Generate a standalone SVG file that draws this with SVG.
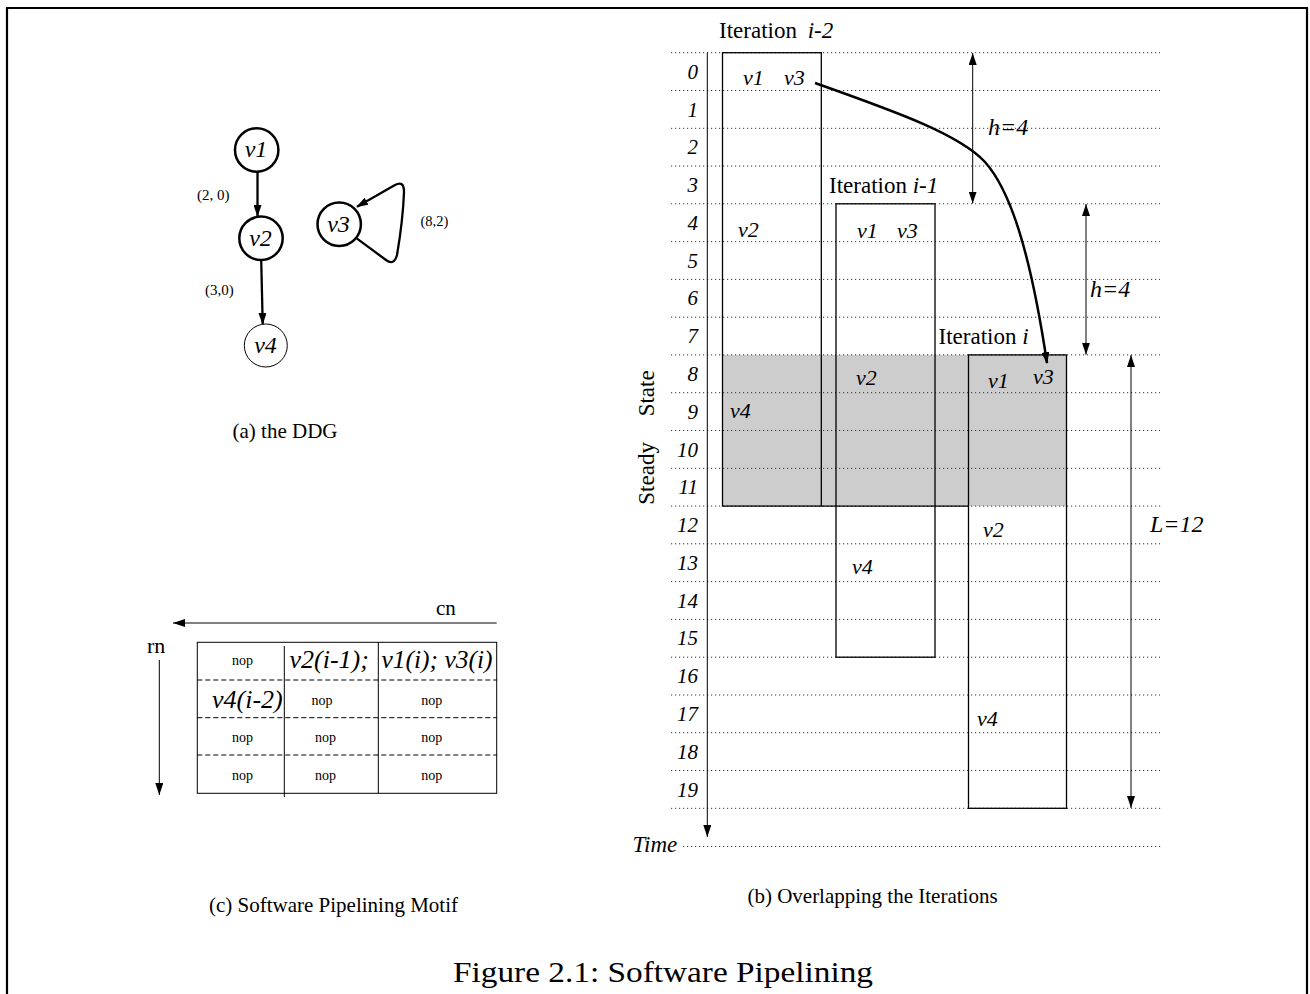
<svg xmlns="http://www.w3.org/2000/svg" width="1310" height="994" viewBox="0 0 1310 994">
<style>
.t{font-family:"Liberation Serif","Times New Roman",serif;fill:#000}
.it{font-style:italic}
.dot{stroke:#333;stroke-width:1;stroke-dasharray:1.2 2.8;fill:none}
.box{fill:none;stroke:#000;stroke-width:1.3}
.thin{stroke:#000;stroke-width:1;fill:none}
.thick{stroke:#000;stroke-width:2.5;fill:none}
.rl{font-size:21px;font-style:italic;text-anchor:end}
.v{font-size:22px;font-style:italic}
.nop{font-size:14px;text-anchor:middle}
.cap{font-size:21px;text-anchor:middle}
</style>
<defs>
<marker id="ah" viewBox="0 0 12 8" refX="12" refY="4" markerWidth="12" markerHeight="8" markerUnits="userSpaceOnUse" orient="auto-start-reverse"><path d="M0 0 L12 4 L0 8 Z" fill="#000"/></marker>
<marker id="ahb" viewBox="0 0 12 8" refX="11" refY="4" markerWidth="12" markerHeight="8" markerUnits="userSpaceOnUse" orient="auto"><path d="M0 0 L12 4 L0 8 Z" fill="#000"/></marker>
</defs>
<rect width="1310" height="994" fill="#fff"/>
<path d="M7 994 V8 H1307 V994" fill="none" stroke="#000" stroke-width="2.2"/>

<!-- (a) DDG -->
<g id="ddg-nodes">
<g id="v1"><circle cx="256.7" cy="150" r="21.7" class="thick" stroke-width="2.3"/><text class="t it" x="256" y="157" font-size="24" text-anchor="middle">v1</text></g>
<g id="v2"><circle cx="261" cy="238.3" r="21.7" class="thick" stroke-width="2.3"/><text class="t it" x="260.5" y="246" font-size="24" text-anchor="middle">v2</text></g>
<g id="v3"><circle cx="339.2" cy="224.2" r="21.7" class="thick" stroke-width="2.3"/><text class="t it" x="338.5" y="232" font-size="24" text-anchor="middle">v3</text></g>
<g id="v4"><circle cx="265.8" cy="345.5" r="21.5" class="thin"/><text class="t it" x="265.5" y="353" font-size="24" text-anchor="middle">v4</text></g>
</g>
<g id="ddg-edges">
<line x1="257.5" y1="171.7" x2="257.5" y2="216" stroke="#000" stroke-width="2.3" marker-end="url(#ahb)"/>
<line x1="261.2" y1="260" x2="262.7" y2="324" stroke="#000" stroke-width="2.3" marker-end="url(#ahb)"/>
<path d="M356.7 238.3 L386 260 Q394 266 397 255 Q403 220 404 192 Q404 180 395 185 L357 206.7" stroke="#000" stroke-width="2.3" fill="none" marker-end="url(#ahb)"/>
<text class="t" x="197" y="200" font-size="15">(2, 0)</text>
<text class="t" x="205" y="295" font-size="15">(3,0)</text>
<text class="t" x="420.5" y="226" font-size="14.5">(8,2)</text>
</g>
<text class="t cap" x="285" y="438">(a) the DDG</text>

<!-- (c) table -->
<g id="motif">
<line x1="496.7" y1="623" x2="173" y2="623" class="thin" marker-end="url(#ah)"/>
<text class="t" x="436" y="615" font-size="21">cn</text>
<text class="t" x="147" y="653" font-size="22">rn</text>
<line x1="159.3" y1="660" x2="159.3" y2="795" class="thin" marker-end="url(#ah)"/>
<rect x="197.3" y="642.3" width="299.4" height="151" class="thin"/>
<g stroke="#000" stroke-width="1" stroke-dasharray="5 3">
<line x1="197.3" y1="680" x2="496.7" y2="680"/>
<line x1="197.3" y1="717.7" x2="496.7" y2="717.7"/>
<line x1="197.3" y1="755" x2="496.7" y2="755"/>
</g>
<line x1="284.3" y1="646" x2="284.3" y2="797" class="thin"/>
<line x1="378.3" y1="642.3" x2="378.3" y2="793.3" class="thin"/>
<text class="t nop" x="242.5" y="665">nop</text>
<text class="t it" x="289.5" y="668" font-size="26">v2(i-1);</text>
<text class="t it" x="381.5" y="668" font-size="26" textLength="111" lengthAdjust="spacingAndGlyphs">v1(i); v3(i)</text>
<text class="t it" x="212" y="708" font-size="26">v4(i-2)</text>
<text class="t nop" x="322" y="705">nop</text>
<text class="t nop" x="431.7" y="705">nop</text>
<text class="t nop" x="242.5" y="742">nop</text>
<text class="t nop" x="325.5" y="742">nop</text>
<text class="t nop" x="431.7" y="742">nop</text>
<text class="t nop" x="242.5" y="780">nop</text>
<text class="t nop" x="325.5" y="780">nop</text>
<text class="t nop" x="431.7" y="780">nop</text>
</g>
<text class="t cap" x="333.5" y="912">(c) Software Pipelining Motif</text>

<!-- (b) overlapping iterations -->
<rect x="722.5" y="354.9" width="344" height="151.2" fill="#cdcdcd"/>
<g id="grid">
<line x1="671" y1="52.7" x2="1160" y2="52.7" class="dot"/>
<line x1="671" y1="90.5" x2="1160" y2="90.5" class="dot"/>
<line x1="671" y1="128.3" x2="1160" y2="128.3" class="dot"/>
<line x1="671" y1="166" x2="1160" y2="166" class="dot"/>
<line x1="671" y1="203.8" x2="1160" y2="203.8" class="dot"/>
<line x1="671" y1="241.6" x2="1160" y2="241.6" class="dot"/>
<line x1="671" y1="279.4" x2="1160" y2="279.4" class="dot"/>
<line x1="671" y1="317.2" x2="1160" y2="317.2" class="dot"/>
<line x1="671" y1="354.9" x2="1160" y2="354.9" class="dot"/>
<line x1="671" y1="392.7" x2="1160" y2="392.7" class="dot"/>
<line x1="671" y1="430.5" x2="1160" y2="430.5" class="dot"/>
<line x1="671" y1="468.3" x2="1163" y2="468.3" class="dot"/>
<line x1="671" y1="506.1" x2="1163" y2="506.1" class="dot"/>
<line x1="671" y1="543.8" x2="1160" y2="543.8" class="dot"/>
<line x1="671" y1="581.6" x2="1160" y2="581.6" class="dot"/>
<line x1="671" y1="619.4" x2="1160" y2="619.4" class="dot"/>
<line x1="671" y1="657.2" x2="1160" y2="657.2" class="dot"/>
<line x1="671" y1="695" x2="1160" y2="695" class="dot"/>
<line x1="671" y1="732.7" x2="1160" y2="732.7" class="dot"/>
<line x1="671" y1="770.5" x2="1160" y2="770.5" class="dot"/>
<line x1="671" y1="808.3" x2="1163" y2="808.3" class="dot"/>
<line x1="683" y1="846.5" x2="1163" y2="846.5" class="dot"/>
</g>
<g id="row-labels" class="t rl">
<text x="698" y="78.7">0</text>
<text x="698" y="116.5">1</text>
<text x="698" y="154.3">2</text>
<text x="698" y="192">3</text>
<text x="698" y="229.8">4</text>
<text x="698" y="267.6">5</text>
<text x="698" y="305.4">6</text>
<text x="698" y="343.2">7</text>
<text x="698" y="380.9">8</text>
<text x="698" y="418.7">9</text>
<text x="698" y="456.5">10</text>
<text x="698" y="494.3">11</text>
<text x="698" y="532.1">12</text>
<text x="698" y="569.8">13</text>
<text x="698" y="607.6">14</text>
<text x="698" y="645.4">15</text>
<text x="698" y="683.2">16</text>
<text x="698" y="721">17</text>
<text x="698" y="758.7">18</text>
<text x="698" y="796.5">19</text>
</g>
<text class="t it" x="632.5" y="852" font-size="23">Time</text>
<text class="t" transform="translate(654,437.5) rotate(-90)" font-size="23" text-anchor="middle" word-spacing="20">Steady State</text>

<g id="iter-i-2">
<rect x="722.5" y="52.7" width="98.8" height="453.4" class="box"/>
<text class="t" x="719" y="38" font-size="23">Iteration <tspan class="it" dx="5">i-2</tspan></text>
<text class="t v" x="743" y="85">v1</text>
<text class="t v" x="784" y="85">v3</text>
<text class="t v" x="738" y="237">v2</text>
<text class="t v" x="730" y="418">v4</text>
</g>
<g id="iter-i-1">
<rect x="836" y="203.8" width="99" height="453.4" class="box"/>
<text class="t" x="829" y="192.5" font-size="23">Iteration <tspan class="it">i-1</tspan></text>
<text class="t v" x="857" y="238">v1</text>
<text class="t v" x="897" y="238">v3</text>
<text class="t v" x="856" y="385">v2</text>
<text class="t v" x="852" y="574">v4</text>
</g>
<g id="iter-i">
<rect x="968.5" y="354.9" width="98" height="453.4" class="box"/>
<text class="t" x="938.5" y="343.5" font-size="23">Iteration <tspan class="it">i</tspan></text>
<text class="t v" x="988" y="388">v1</text>
<text class="t v" x="1033" y="384">v3</text>
<text class="t v" x="983" y="537">v2</text>
<text class="t v" x="977" y="726">v4</text>
</g>
<line x1="821.3" y1="506.1" x2="968.5" y2="506.1" stroke="#000" stroke-width="1.3"/>

<g id="connectors">
<line x1="707.3" y1="52.7" x2="707.3" y2="837" class="thin" marker-end="url(#ah)"/>
<path d="M815 83 C900 113 960 135 985 162 C1010 190 1030 250 1047 363" stroke="#000" stroke-width="2.5" fill="none" marker-end="url(#ahb)"/>
<line x1="972.7" y1="53" x2="972.7" y2="203.5" class="thin" marker-start="url(#ah)" marker-end="url(#ah)"/>
<line x1="1086" y1="204" x2="1086" y2="354.7" class="thin" marker-start="url(#ah)" marker-end="url(#ah)"/>
<line x1="1131" y1="355" x2="1131" y2="808" class="thin" marker-start="url(#ah)" marker-end="url(#ah)"/>
</g>
<text class="t it" x="988" y="135" font-size="24">h=4</text>
<text class="t it" x="1090" y="297" font-size="24">h=4</text>
<text class="t it" x="1150" y="532" font-size="24">L=12</text>
<text class="t cap" x="872.5" y="903">(b) Overlapping the Iterations</text>

<text class="t" x="663" y="982" font-size="29" text-anchor="middle" textLength="420" lengthAdjust="spacingAndGlyphs">Figure 2.1: Software Pipelining</text>
</svg>
